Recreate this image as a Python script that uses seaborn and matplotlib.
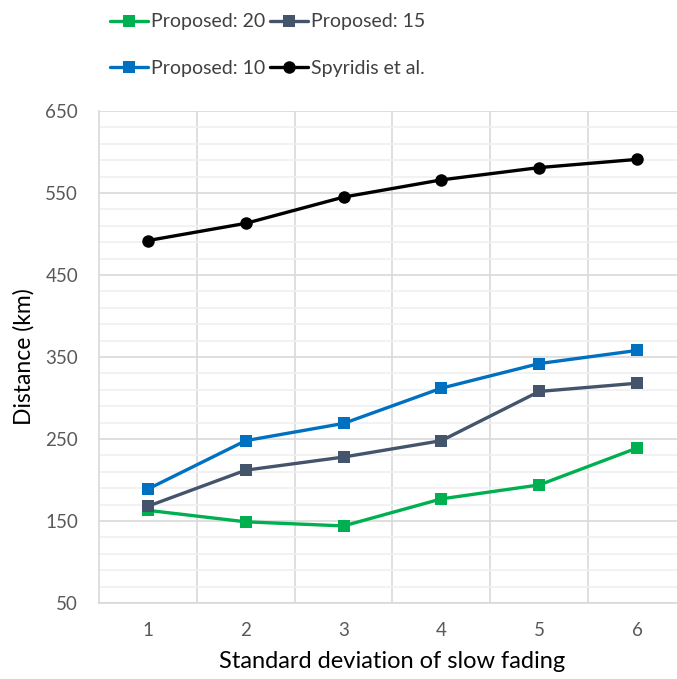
import matplotlib
matplotlib.use("Agg")
import matplotlib.pyplot as plt
from matplotlib.ticker import FixedLocator
from matplotlib.lines import Line2D
import seaborn as sns
import pandas as pd

sigma = [1, 2, 3, 4, 5, 6]
proposed_20 = [163, 149, 144, 177, 194, 239]
proposed_15 = [168, 212, 228, 248, 308, 318]
proposed_10 = [189, 248, 269, 312, 342, 358]
spyridis = [492, 513, 545, 566, 581, 591]

y_major = [50, 150, 250, 350, 450, 550, 650]

series_names = ["Proposed: 20", "Proposed: 15", "Proposed: 10", "Spyridis et al."]
series_values = [proposed_20, proposed_15, proposed_10, spyridis]
colors = {"Proposed: 20": "#00B050", "Proposed: 15": "#44546A",
          "Proposed: 10": "#0070C0", "Spyridis et al.": "#000000"}
markers = {"Proposed: 20": "s", "Proposed: 15": "s",
           "Proposed: 10": "s", "Spyridis et al.": "o"}

rows = []
for name, vals in zip(series_names, series_values):
    for x, v in zip(sigma, vals):
        rows.append({"sigma": x, "distance": v, "series": name})
df = pd.DataFrame(rows)

sns.set_theme(style="white")
plt.rcParams["font.family"] = ["Lato", "DejaVu Sans"]

fig = plt.figure(figsize=(6.77, 6.79), dpi=100)
W, H = 677, 679
ax = fig.add_axes([99 / W, (H - 603) / H, (686 - 99) / W, (603 - 111) / H])

# Excel-style grid: light minor lines every 20, major every 100, category dividers
ax.set_xlim(0.5, 6.5)
ax.set_ylim(50, 650)
ax.yaxis.set_major_locator(FixedLocator(y_major))
ax.yaxis.set_minor_locator(FixedLocator(list(range(70, 650, 20))))
ax.xaxis.set_major_locator(FixedLocator(sigma))
ax.xaxis.set_minor_locator(FixedLocator([1.5, 2.5, 3.5, 4.5, 5.5, 6.5]))
ax.grid(which="minor", axis="y", color="#F0F0F0", linewidth=1.2)
ax.grid(which="major", axis="y", color="#D9D9D9", linewidth=1.2)
ax.grid(which="minor", axis="x", color="#D9D9D9", linewidth=1.2)
ax.grid(which="major", axis="x", visible=False)
ax.set_axisbelow(True)

for s in ["top", "right"]:
    ax.spines[s].set_visible(False)
for s in ["left", "bottom"]:
    ax.spines[s].set_color("#D9D9D9")
    ax.spines[s].set_linewidth(1.2)

sns.lineplot(data=df, x="sigma", y="distance", hue="series", style="series",
             hue_order=series_names, style_order=series_names,
             palette=colors, markers=markers, dashes=False,
             linewidth=2.4, markersize=9, markeredgewidth=0,
             ax=ax, legend=False)

ax.tick_params(axis="both", which="both", length=0, labelsize=13.5,
               colors="#595959")
ax.tick_params(axis="x", pad=14)
ax.tick_params(axis="y", pad=15)
ax.set_xlabel("Standard deviation of slow fading", fontsize=17,
              color="black", labelpad=8)
ax.set_ylabel("Distance (km)", fontsize=16.5, color="black", labelpad=8)

# Legend laid out in two rows across the top
order = ["Proposed: 20", "Proposed: 10", "Proposed: 15", "Spyridis et al."]
handles = [Line2D([], [], color=colors[n], marker=markers[n], linewidth=2.4,
                  markersize=9, markeredgewidth=0) for n in order]
leg = fig.legend(handles, order, ncol=2, loc="center",
                 bbox_to_anchor=(268 / W, 1 - 45 / H), frameon=False,
                 fontsize=14, handlelength=1.95, handletextpad=0.15,
                 columnspacing=0.25, labelspacing=1.5, borderaxespad=0)
for t in leg.get_texts():
    t.set_color("#404040")

fig.savefig("out.png", dpi=100)
